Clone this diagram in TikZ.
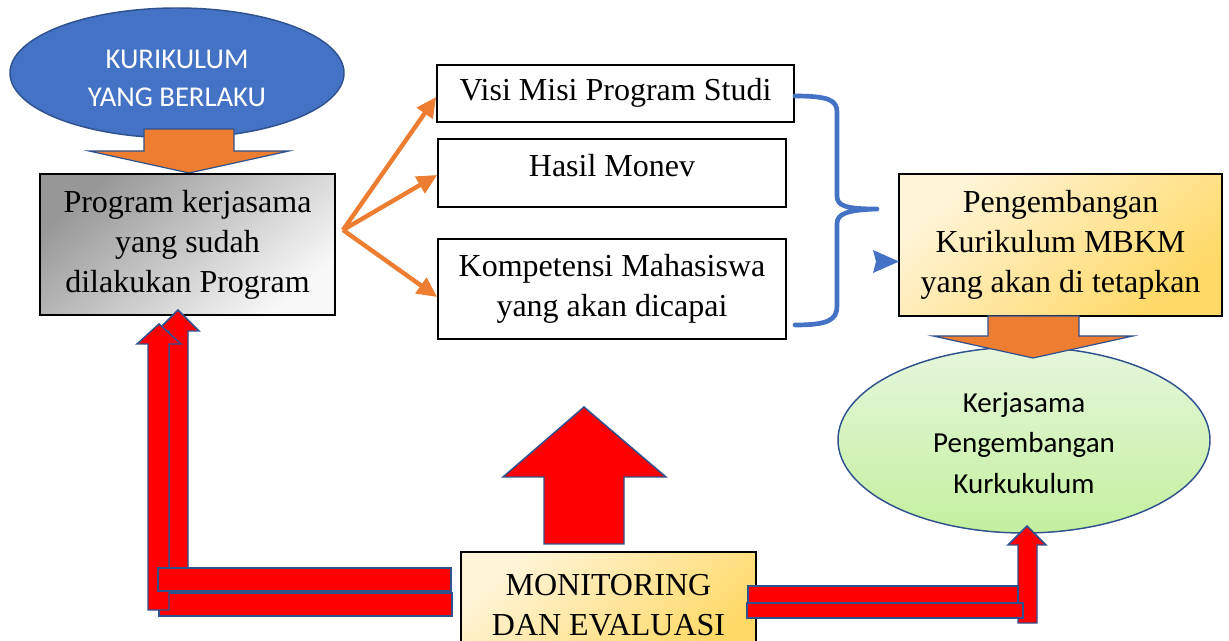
\documentclass[tikz,border=0pt]{standalone}
\usepackage{fontspec}
\setmainfont{Liberation Serif}
\newfontfamily\calibri{Carlito}
\usetikzlibrary{shapes.geometric,arrows.meta,calc}
\definecolor{accblue}{HTML}{4472C4}
\definecolor{darkblue}{HTML}{2F528F}
\definecolor{accorange}{HTML}{ED7D31}
\definecolor{grayA}{HTML}{979797}
\definecolor{grayB}{HTML}{F8F8F8}
\definecolor{yelA}{HTML}{FFF4D8}
\definecolor{yelB}{HTML}{FFD966}
\definecolor{greenA}{HTML}{E6F6DC}
\definecolor{greenB}{HTML}{C3F09E}
\begin{document}
\begin{tikzpicture}[x=0.75pt,y=-0.75pt,
  txtbox/.style={draw=black, line width=1.3pt, align=center, inner sep=0pt,
    font=\fontsize{24}{30}\selectfont},
  oneline/.style={text height=0.69em, text depth=0.22em},
  whitebox/.style={txtbox, fill=white},
  graybox/.style={txtbox, top color=grayA, bottom color=grayB, shading angle=40},
  yelbox/.style={txtbox, top color=yelA, bottom color=yelB, shading angle=40},
  blockarrow/.style={draw=darkblue, line width=1.1pt, line join=miter},
  redblock/.style={blockarrow, fill=red},
  orangeblock/.style={blockarrow, fill=accorange, line width=0.9pt},
  oconn/.style={draw=accorange, line width=3.3pt, -{Triangle[length=15pt,width=14pt]}},
  bracket/.style={draw=accblue, line width=3.5pt, line cap=round, line join=round},
  ellbase/.style={ellipse, draw=darkblue, line width=1.1pt, inner sep=0pt},
]
\useasboundingbox (0,0) rectangle (1229,641);

% top-left ellipse
\node[ellbase, fill=accblue, minimum width=250.5pt, minimum height=97.5pt] (kur) at (177,73) {};
\node[text=white, align=center, inner sep=0pt, font=\calibri\fontsize{21.5}{28.5}\selectfont] (kurt) at (177,78) {KURIKULUM\\YANG BERLAKU};

% orange block arrow down (ellipse -> program box)
\draw[orangeblock] (144,129) -- (234,129) -- (234,151) -- (289,151) -- (189,173) -- (89,151) -- (144,151) -- cycle;

% boxes
\node[graybox, minimum width=221.25pt, minimum height=105.75pt] (prog) at (187.5,244.5) {Program kerjasama\\yang sudah\\dilakukan Program};
\node[whitebox, oneline, minimum width=267.75pt, minimum height=42.75pt] (visi) at (615.5,93.5) {\raisebox{-3pt}{Visi Misi Program Studi}};
\node[whitebox, oneline, minimum width=261pt, minimum height=51pt] (hasil) at (612,173) {Hasil Monev};
\node[whitebox, minimum width=261pt, minimum height=75pt] (komp) at (612,289) {Kompetensi Mahasiswa\\yang akan dicapai};
\node[yelbox, minimum width=242.25pt, minimum height=106.5pt] (peng) at (1060.5,245) {Pengembangan\\Kurikulum MBKM\\yang akan di tetapkan};

% green ellipse
\node[ellbase, top color=greenA, bottom color=greenB, minimum width=279pt, minimum height=139.5pt] (kerja) at (1024,440) {};
\node[align=center, inner sep=0pt, font=\calibri\fontsize{21.75}{30.4}\selectfont] (kerjat) at (1024,443) {Kerjasama\\Pengembangan\\Kurkukulum};

% orange block arrow down (peng -> ellipse)
\draw[orangeblock] (988,316) -- (1079,316) -- (1079,336) -- (1133,336) -- (1033,358) -- (933,336) -- (988,336) -- cycle;

% orange connectors
\coordinate (fork) at (343,230);
\draw[oconn] (fork) -- ($(visi.west)+(0,3.5)$);
\draw[oconn] (fork) -- ($(hasil.west)+(0,2)$);
\draw[oconn] (fork) -- ($(komp.west)+(0,8)$);

% blue brace and arrowhead
\draw[bracket] (795,96) .. controls (828,96) and (837,100) .. (837,112) -- (837,196)
  .. controls (837,206) and (846,209) .. (877,209)
  .. controls (846,210) and (837,214) .. (837,224) -- (837,306)
  .. controls (837,320) and (828,325) .. (795,325);
\fill[accblue] (873,250) -- (899,261.5) -- (873,273) -- (876,261.5) -- cycle;

% monitoring box
\node[yelbox, minimum width=221.25pt, minimum height=79.5pt] (mon) at (608.5,605) {MONITORING\\DAN EVALUASI};

% big red up arrow
\draw[redblock] (544,544) -- (544,477) -- (503,477) -- (584,407) -- (666,477) -- (624,477) -- (624,544) -- cycle;

% left red arrows
\draw[redblock] (169,600) -- (169,331) -- (157,331) -- (178,310) -- (199,331) -- (188,331) -- (188,600) -- cycle;
\draw[redblock] (159,593) rectangle (452,616);
\draw[redblock] (148,610) -- (148,344) -- (137,344) -- (159,324) -- (181,344) -- (169,344) -- (169,610) -- cycle;
\draw[redblock] (158,568) rectangle (451,591);

% right red arrows
\draw[redblock] (1018,623) -- (1018,545) -- (1008,545) -- (1027,526) -- (1046,545) -- (1037,545) -- (1037,623) -- cycle;
\draw[redblock] (748,586) rectangle (1018,603);
\draw[redblock] (747,603) rectangle (1023,618);
\end{tikzpicture}
\end{document}
